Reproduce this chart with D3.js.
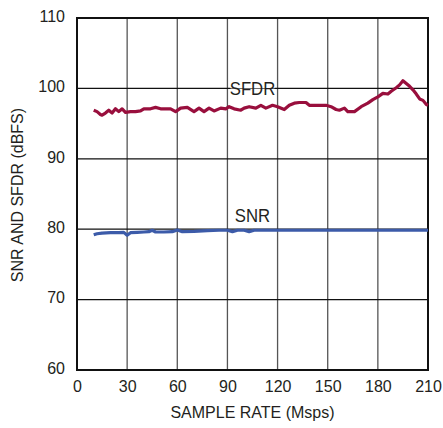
<!DOCTYPE html>
<html>
<head>
<meta charset="utf-8">
<script src="https://cdn.jsdelivr.net/npm/d3@7"></script>
<style>
  body { margin: 0; background: #fff; }
  svg text { font-family: 'Liberation Sans Narrow', 'Arial Narrow', 'Liberation Sans', sans-serif; fill: #231f20; }
</style>
</head>
<body>
<div id="chart"></div>
<script>
// sample rate (Msps) and SFDR (dBFS)
var sfdrRate = [10, 12, 14, 15, 17, 19, 21, 23, 25, 27, 29, 32, 35, 38, 40, 44, 47, 50, 53, 56, 59, 62, 66, 70, 73, 76, 79, 82, 86, 89, 91, 94, 98, 100, 103, 107, 110, 113, 117, 120, 124, 127, 130, 133, 137, 139, 144, 149, 152, 155, 157, 160, 162, 166, 170, 174, 177, 180, 183, 186, 188, 191, 193, 195, 197, 199, 201, 203, 205, 207, 209, 210]
var sfdrValue = [96.9, 96.7, 96.3, 96.2, 96.5, 96.9, 96.5, 97.1, 96.7, 97.1, 96.6, 96.7, 96.7, 96.8, 97.1, 97.1, 97.3, 97.1, 97.1, 97.1, 96.7, 97.2, 97.3, 96.7, 97.2, 96.7, 97.2, 96.8, 97.2, 97.1, 97.4, 97.1, 96.9, 97.2, 97.4, 97.2, 97.6, 97.2, 97.6, 97.4, 97.0, 97.6, 97.9, 98.0, 98.0, 97.6, 97.6, 97.6, 97.4, 97.0, 96.9, 97.2, 96.7, 96.7, 97.4, 97.9, 98.4, 98.8, 99.3, 99.2, 99.6, 100.1, 100.5, 101.1, 100.7, 100.3, 99.8, 99.2, 98.5, 98.3, 97.7, 97.6]

// sample rate (Msps) and SNR (dBFS)
var snrRate = [10, 12, 15, 20, 25, 28, 30, 32, 36, 40, 43, 45, 47, 52, 57, 60, 63, 70, 78, 85, 90, 93, 96, 100, 103, 106, 120, 150, 180, 210]
var snrValue = [79.2, 79.35, 79.45, 79.5, 79.5, 79.55, 79.15, 79.5, 79.55, 79.6, 79.65, 79.85, 79.6, 79.6, 79.65, 79.9, 79.65, 79.7, 79.8, 79.85, 79.85, 79.65, 79.85, 79.85, 79.65, 79.85, 79.85, 79.85, 79.85, 79.85]

var xTicks = [0, 30, 60, 90, 120, 150, 180, 210]
var yTicks = [60, 70, 80, 90, 100, 110]

var width = 443
var height = 428
var margin = {left: 77, right: 15, top: 18, bottom: 58}
var chartWidth = width - margin.left - margin.right
var chartHeight = height - margin.top - margin.bottom

var svg = d3.select('#chart').append('svg')
  .attr('width', width)
  .attr('height', height)

var chart = svg.append('g')
  .attr('transform', 'translate(' + margin.left + ',' + margin.top + ')')

var xScale = d3.scaleLinear().domain([0, 210]).range([0, chartWidth])
var yScale = d3.scaleLinear().domain([60, 110]).range([chartHeight, 0])

// grid
chart.append('g')
  .selectAll('line')
  .data(xTicks.slice(1, -1))
  .enter().append('line')
  .attr('x1', function (d) { return xScale(d) })
  .attr('x2', function (d) { return xScale(d) })
  .attr('y1', 0)
  .attr('y2', chartHeight)
  .attr('stroke', '#555')
  .attr('stroke-width', 1.3)

chart.append('g')
  .selectAll('line')
  .data(yTicks.slice(1, -1))
  .enter().append('line')
  .attr('x1', 0)
  .attr('x2', chartWidth)
  .attr('y1', function (d) { return yScale(d) })
  .attr('y2', function (d) { return yScale(d) })
  .attr('stroke', '#111')
  .attr('stroke-width', 1.3)

// axes (labels only)
var xAxis = d3.axisBottom(xScale).tickValues(xTicks).tickSize(0).tickPadding(11)
var yAxis = d3.axisLeft(yScale).tickValues(yTicks).tickSize(0).tickPadding(12)

var gx = chart.append('g')
  .attr('transform', 'translate(0,' + chartHeight + ')')
  .call(xAxis)
gx.select('.domain').remove()
gx.selectAll('text').style('font-size', '16px').attr('fill', '#231f20')

var gy = chart.append('g').call(yAxis)
gy.select('.domain').remove()
gy.selectAll('text').style('font-size', '16px').attr('fill', '#231f20').attr('dy', '0.2em')

// frame
chart.append('rect')
  .attr('x', 0)
  .attr('y', 0)
  .attr('width', chartWidth)
  .attr('height', chartHeight)
  .attr('fill', 'none')
  .attr('stroke', '#111')
  .attr('stroke-width', 2)

// series
var line = d3.line()
  .x(function (d) { return xScale(d[0]) })
  .y(function (d) { return yScale(d[1]) })

chart.append('path')
  .datum(d3.zip(snrRate, snrValue))
  .attr('d', line)
  .attr('fill', 'none')
  .attr('stroke', '#3c5ba9')
  .attr('stroke-width', 3.2)
  .attr('stroke-linejoin', 'round')

chart.append('path')
  .datum(d3.zip(sfdrRate, sfdrValue))
  .attr('d', line)
  .attr('fill', 'none')
  .attr('stroke', '#990f3d')
  .attr('stroke-width', 3.2)
  .attr('stroke-linejoin', 'round')

// series labels (condensed to match the narrow face)
var sfdrLabel = chart.append('g')
  .attr('transform', 'translate(' + xScale(105) + ',' + yScale(100) + ')')
sfdrLabel.append('rect')
  .attr('x', -22)
  .attr('y', -12)
  .attr('width', 44)
  .attr('height', 12)
  .attr('fill', '#fff')
sfdrLabel.append('text')
  .attr('text-anchor', 'middle')
  .attr('transform', 'scale(0.88,1)')
  .attr('y', 7)
  .style('font-size', '19px')
  .text('SFDR')

chart.append('text')
  .attr('text-anchor', 'middle')
  .attr('transform', 'translate(' + xScale(105) + ',' + (yScale(80) - 7) + ') scale(0.88,1)')
  .style('font-size', '19px')
  .text('SNR')

// axis titles
svg.append('text')
  .attr('x', margin.left + chartWidth / 2)
  .attr('y', 418)
  .attr('text-anchor', 'middle')
  .style('font-size', '16px')
  .text('SAMPLE RATE (Msps)')

svg.append('text')
  .attr('transform', 'translate(23,' + (margin.top + chartHeight / 2 + 1) + ') rotate(-90)')
  .attr('text-anchor', 'middle')
  .style('font-size', '16px')
  .text('SNR AND SFDR (dBFS)')
</script>
</body>
</html>
